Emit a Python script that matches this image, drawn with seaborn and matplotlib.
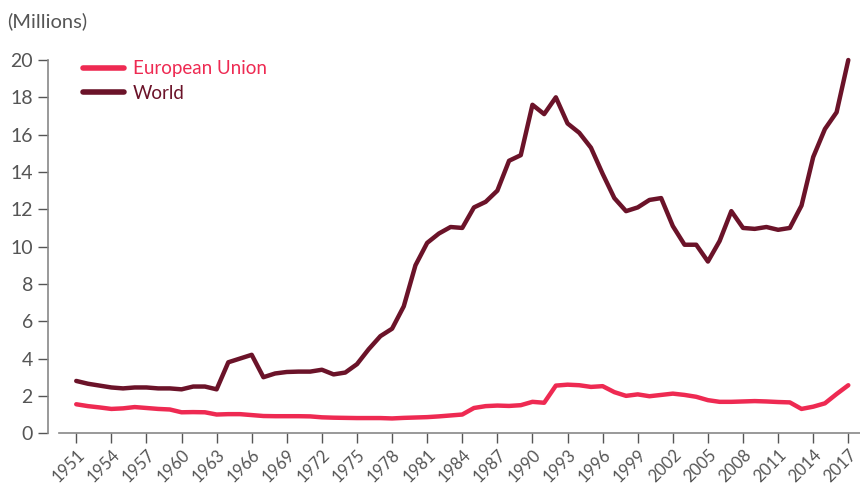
import numpy as np
import pandas as pd
import matplotlib
matplotlib.use("Agg")
import matplotlib.pyplot as plt
import seaborn as sns

years = list(range(1951, 2018))
world = [2.8, 2.65, 2.55, 2.45, 2.4, 2.45, 2.45, 2.4, 2.4, 2.35,
         2.5, 2.5, 2.35, 3.8, 4.0, 4.2, 3.0, 3.2, 3.28, 3.3,
         3.3, 3.4, 3.15, 3.25, 3.7, 4.5, 5.2, 5.6, 6.8, 9.0,
         10.2, 10.7, 11.05, 11.0, 12.1, 12.4, 13.0, 14.6, 14.9, 17.6,
         17.1, 18.0, 16.6, 16.1, 15.3, 13.9, 12.6, 11.9, 12.1, 12.5,
         12.6, 11.1, 10.1, 10.1, 9.2, 10.3, 11.9, 11.0, 10.95, 11.05,
         10.9, 11.0, 12.2, 14.8, 16.3, 17.2, 20.0]
eu = [1.55, 1.45, 1.38, 1.3, 1.33, 1.4, 1.35, 1.3, 1.27, 1.12,
      1.13, 1.12, 1.0, 1.02, 1.02, 0.97, 0.92, 0.91, 0.91, 0.91,
      0.9, 0.85, 0.83, 0.82, 0.81, 0.81, 0.81, 0.79, 0.82, 0.84,
      0.86, 0.9, 0.95, 1.0, 1.35, 1.45, 1.48, 1.46, 1.5, 1.68,
      1.63, 2.55, 2.6, 2.57, 2.48, 2.52, 2.2, 2.0, 2.08, 1.98,
      2.05, 2.12, 2.05, 1.95, 1.77, 1.68, 1.68, 1.7, 1.72, 1.7,
      1.67, 1.65, 1.3, 1.42, 1.6, 2.1, 2.57]
series_names = ["European Union", "World"]
colors = {"European Union": "#EE2A52", "World": "#6B1329"}
xtick_years = list(range(1951, 2018, 3))
yticks = list(range(0, 21, 2))

df = pd.DataFrame({
    "year": years * 2,
    "value": eu + world,
    "series": ["European Union"] * len(years) + ["World"] * len(years),
})

sns.set_theme(style="white")
plt.rcParams["font.family"] = ["Lato", "DejaVu Sans"]

fig = plt.figure(figsize=(8.6, 4.84), dpi=100)
ax = fig.add_axes([0.056, 0.105, 0.944, 0.771])

sns.lineplot(data=df, x="year", y="value", hue="series", hue_order=series_names,
             palette=colors, linewidth=3.2, ax=ax, legend=True,
             solid_capstyle="round", solid_joinstyle="round")
for ln in ax.get_lines():
    ln.set_clip_on(False)

ax.set_xlim(1948.6, 2018.0)
ax.set_ylim(0, 20)
ax.set_xticks(xtick_years)
ax.set_xticklabels([str(y) for y in xtick_years], rotation=45, ha="right",
                   rotation_mode="anchor", fontsize=12, color="#555555")
ax.set_yticks(yticks)
ax.set_yticklabels([str(v) for v in yticks], fontsize=14, color="#555555")
ax.tick_params(axis="x", length=7, width=1, color="#555555", pad=3, bottom=True)
ax.tick_params(axis="y", length=7, width=1, color="#555555", pad=4, left=True)
ax.set_xlabel("")
ax.set_ylabel("")
for s in ["top", "right"]:
    ax.spines[s].set_visible(False)
for s in ["left", "bottom"]:
    ax.spines[s].set_color("#888888")
    ax.spines[s].set_linewidth(1.2)
ax.spines["bottom"].set_bounds(1949.55, 2018.0)
ax.grid(False)

leg = ax.legend(loc="upper left", bbox_to_anchor=(0.022, 1.045), frameon=False,
                fontsize=13.5, handlelength=2.2, handletextpad=0.45,
                labelspacing=0.4)
for txt, name in zip(leg.get_texts(), series_names):
    txt.set_color(colors[name])
for h in leg.get_lines():
    h.set_linewidth(4)

fig.text(0.008, 0.957, "(Millions)", fontsize=14.5, color="#555555",
         ha="left", va="center")

fig.savefig("out.png", dpi=100)
